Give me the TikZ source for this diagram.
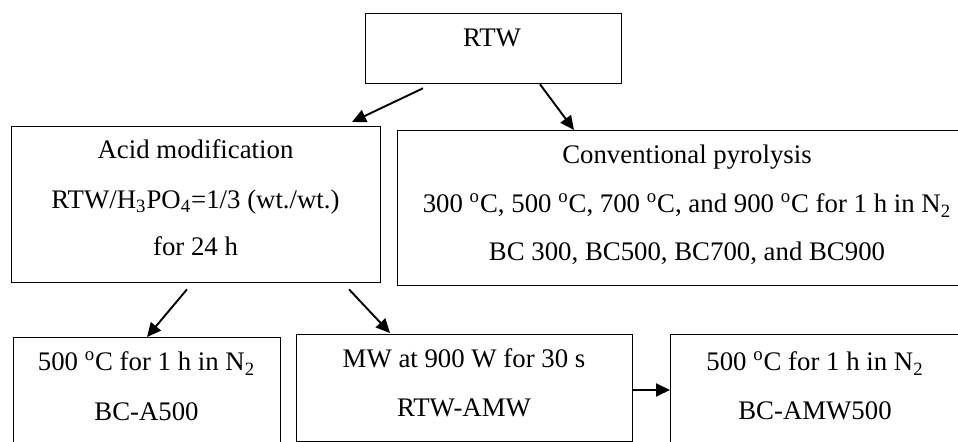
\documentclass[tikz,border=0pt]{standalone}
\usepackage{fontspec}
\setmainfont{Liberation Serif}
\usetikzlibrary{arrows.meta}
\begin{document}
\begin{tikzpicture}[x=0.5pt,y=-0.5pt,
  box/.style={draw=black,line width=0.65pt,inner sep=0pt,anchor=north west},
  txt/.style={anchor=base,inner sep=0pt,font=\fontsize{13.4pt}{16pt}\selectfont},
  arr/.style={line width=0.95pt,-{Triangle[length=7pt,width=6.5pt]}}]
\useasboundingbox (0,0) rectangle (958,442);
\clip (0,0) rectangle (958,442);
% boxes
\node[box,minimum width=128pt,minimum height=35pt] (rtw) at (365,13) {};
\node[box,minimum width=184.5pt,minimum height=78pt] (acid) at (11,126) {};
\node[box,minimum width=290pt,minimum height=77.5pt] (conv) at (397,130) {};
\node[box,minimum width=133.5pt,minimum height=62pt] (bl) at (13,337) {};
\node[box,minimum width=168pt,minimum height=53.5pt] (mw) at (296,334) {};
\node[box,minimum width=146pt,minimum height=63pt] (br) at (670,334) {};
% texts
\node[txt] (rtwt) at (492,47) {RTW};
\node[txt] (acid1) at (195.5,159) {Acid modification};
\node[txt] (acid2) at (195.5,208.5) {RTW/H\textsubscript{3}PO\textsubscript{4}=1/3 (wt./wt.)};
\node[txt] (acid3) at (195.5,256) {for 24 h};
\node[txt] (conv1) at (687,164) {Conventional pyrolysis};
\node[txt] (conv2) at (687,213) {300 \textsuperscript{o}C, 500 \textsuperscript{o}C, 700 \textsuperscript{o}C, and 900 \textsuperscript{o}C for 1 h in N\textsubscript{2}};
\node[txt] (conv3) at (687,261) {BC 300, BC500, BC700, and BC900};
\node[txt] (bl1) at (146.5,371) {500 \textsuperscript{o}C for 1 h in N\textsubscript{2}};
\node[txt] (bl2) at (146.5,421) {BC-A500};
\node[txt] (mw1) at (464,367.5) {MW at 900 W for 30 s};
\node[txt] (mw2) at (464,417) {RTW-AMW};
\node[txt] (br1) at (815,371) {500 \textsuperscript{o}C for 1 h in N\textsubscript{2}};
\node[txt] (br2) at (815,420) {BC-AMW500};
% connectors
\draw[arr] ([shift={(58,4)}]rtw.south west) -- ([shift={(341,-4)}]acid.north west);
\draw[arr] ([shift={(175,0)}]rtw.south west) -- ([shift={(177,0)}]conv.north west);
\draw[arr] ([shift={(176,6)}]acid.south west) -- ([shift={(134,0)}]bl.north west);
\draw[arr] ([shift={(338,6)}]acid.south west) -- ([shift={(94,-1)}]mw.north west);
\draw[arr] ([shift={(0,56)}]mw.north east) -- ([shift={(0,56)}]br.north west);
\end{tikzpicture}
\end{document}
